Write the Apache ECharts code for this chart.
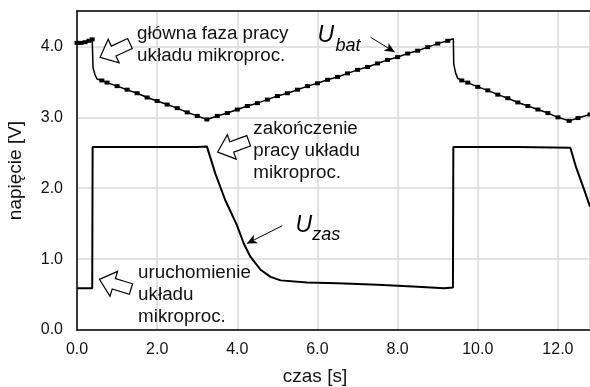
<!DOCTYPE html>
<html><head><meta charset="utf-8">
<script src="https://cdn.jsdelivr.net/npm/echarts@6/dist/echarts.min.js"></script>
<style>html,body{margin:0;padding:0;background:#fff}#c{width:590px;height:387px}</style>
</head><body><div id="c"></div>
<script>
// ---- data ----
const xMin = 0, xMax = 12.8, xStep = 2;
const yMin = 0, yMax = 4.5, yStep = 1;
const xName = 'czas [s]';
const yName = 'napięcie [V]';

const ubatT = [0, 0.1, 0.2, 0.3, 0.38, 0.4, 0.45, 0.5, 0.62, 0.75, 1.0, 1.25, 1.5, 1.75, 2.0, 2.25, 2.5, 2.75, 3.0, 3.24,
  3.5, 3.75, 4.0, 4.25, 4.5, 4.75, 5.0, 5.25, 5.5, 5.75, 6.0, 6.25, 6.5, 6.75, 7.0, 7.25, 7.5, 7.75, 8.0, 8.25, 8.5, 8.75, 9.0, 9.25, 9.39,
  9.4, 9.45, 9.5, 9.6, 9.75, 10.0, 10.25, 10.5, 10.75, 11.0, 11.25, 11.5, 11.75, 12.0, 12.28, 12.5, 12.8];
const ubatV = [4.05, 4.05, 4.06, 4.08, 4.10, 3.70, 3.60, 3.54, 3.52, 3.49, 3.44, 3.39, 3.34, 3.28, 3.23, 3.18, 3.13, 3.07, 3.02, 2.97,
  3.02, 3.06, 3.11, 3.16, 3.20, 3.25, 3.30, 3.34, 3.39, 3.44, 3.48, 3.53, 3.57, 3.62, 3.67, 3.71, 3.76, 3.81, 3.85, 3.90, 3.94, 3.99, 4.04, 4.08, 4.11,
  3.75, 3.62, 3.55, 3.52, 3.49, 3.43, 3.38, 3.32, 3.27, 3.21, 3.16, 3.11, 3.06, 3.00, 2.95, 2.99, 3.04];
// samples on the fast drops (drawn without a bead)
const ubatDropT = [0.4, 0.45, 0.5, 9.39, 9.4, 9.45, 9.5];

const uzasT = [0, 0.38, 0.39, 1.0, 2.0, 3.0, 3.24, 3.45, 3.7, 3.99, 4.16, 4.33, 4.58, 4.83, 5.08, 5.74, 6.5, 7.5, 8.5, 9.16, 9.38,
  9.39, 10.0, 11.0, 12.31, 12.45, 12.66, 12.8];
const uzasV = [0.59, 0.59, 2.58, 2.58, 2.58, 2.58, 2.59, 2.21, 1.83, 1.48, 1.22, 1.03, 0.85, 0.75, 0.70, 0.67, 0.66, 0.64, 0.61, 0.59, 0.60,
  2.58, 2.58, 2.58, 2.57, 2.30, 1.97, 1.74];

// annotation texts and their anchors (data units)
const noteTexts = ['główna faza pracy\nukładu mikroproc.', 'zakończenie\npracy układu\nmikroproc.', 'uruchomienie\nukładu\nmikroproc.'];
const noteAnchors = [[1.5, 4.34], [4.4, 3.0], [1.525, 0.958]];
const blockArrowTips = [[0.575, 3.845], [3.51, 2.51], [0.56, 0.714]];
const blockArrowAngles = [25, 20, -17]; // degrees
const seriesNames = ['U', 'U'];
const seriesSubs = ['bat', 'zas'];
const mainLetterAnchors = [[6.0, 4.155], [5.45, 1.475]];
const subAnchors = [[6.45, 4.0], [5.87, 1.334]];
const pointerFrom = [[7.325, 4.13], [5.12, 1.47]];
const pointerTo = [[7.925, 3.92], [4.24, 1.22]];

// ---- chart ----
const FONT = '"Liberation Sans", Arial, sans-serif';
const chart = echarts.init(document.getElementById('c'), null, {renderer: 'canvas'});
const ubatData = ubatT.map((t, i) => ubatDropT.includes(t)
  ? {value: [t, ubatV[i]], symbol: 'none'}
  : {value: [t, ubatV[i]]});
const uzasData = uzasT.map((t, i) => [t, uzasV[i]]);

const option = {
  animation: false,
  backgroundColor: '#fff',
  grid: {left: 77, right: 0, top: 11, bottom: 57, containLabel: false, outerBoundsMode: 'none'},
  xAxis: [{
    type: 'value', min: xMin, max: xMax, interval: xStep,
    axisLine: {show: true, onZero: false, lineStyle: {color: '#000', width: 1.5}},
    axisTick: {show: false},
    axisLabel: {formatter: v => v.toFixed(1), fontSize: 16, color: '#111', fontFamily: FONT, margin: 12, showMaxLabel: false},
    splitLine: {show: true, lineStyle: {color: '#d9d9d9', width: 1.5}},
    name: xName, nameLocation: 'middle', nameGap: 37,
    nameTextStyle: {fontSize: 19, color: '#111', fontFamily: FONT, padding: [0, 37, 0, 0]}
  }, {
    type: 'value', position: 'top', min: xMin, max: xMax,
    axisLine: {show: true, onZero: false, lineStyle: {color: '#000', width: 1.5}},
    axisTick: {show: false}, axisLabel: {show: false}, splitLine: {show: false}
  }],
  yAxis: {
    type: 'value', min: yMin, max: yMax, interval: yStep,
    axisLine: {show: true, onZero: false, lineStyle: {color: '#000', width: 1.5}},
    axisTick: {show: false},
    axisLabel: {formatter: v => v.toFixed(1), fontSize: 16, color: '#111', fontFamily: FONT, margin: 14, showMaxLabel: false},
    splitLine: {show: true, lineStyle: {color: '#d9d9d9', width: 1.5}},
    name: yName, nameLocation: 'middle', nameGap: 52,
    nameTextStyle: {fontSize: 19, color: '#111', fontFamily: FONT}
  },
  series: [{
    name: 'Ubat', type: 'line', data: ubatData,
    showSymbol: true, showAllSymbol: true, symbol: 'rect', symbolSize: [5, 4],
    itemStyle: {color: '#000'}, lineStyle: {color: '#000', width: 1.5},
    markLine: {
      silent: true, symbol: ['none', 'arrow'], symbolSize: [7, 10],
      label: {show: false}, lineStyle: {color: '#000', width: 1, type: 'solid'},
      data: pointerFrom.map((p, i) => [{coord: p}, {coord: pointerTo[i]}])
    }
  }, {
    name: 'Uzas', type: 'line', data: uzasData, showSymbol: false,
    lineStyle: {color: '#000', width: 2}
  }]
};
chart.setOption(option);

function px(p) { return chart.convertToPixel({gridIndex: 0}, p); }
const graphics = [];
noteTexts.forEach((t, i) => {
  const p = px(noteAnchors[i]);
  graphics.push({type: 'text', x: p[0], y: p[1], silent: true,
    style: {text: t, fontSize: 18.8, fontFamily: FONT, fill: '#111', lineHeight: 22, textAlign: 'left', textVerticalAlign: 'top'}});
});
const arrowShape = [[0, 0], [15, -13], [15, -5.5], [33, -5.5], [33, 5.5], [15, 5.5], [15, 13]];
blockArrowTips.forEach((tip, i) => {
  const p = px(tip);
  graphics.push({type: 'polygon', x: p[0], y: p[1], rotation: blockArrowAngles[i] * Math.PI / 180, silent: true,
    shape: {points: arrowShape}, style: {fill: '#fff', stroke: '#000', lineWidth: 1.2}});
});
seriesNames.forEach((n, i) => {
  const a = px(mainLetterAnchors[i]);
  const b = px(subAnchors[i]);
  graphics.push({type: 'text', x: a[0], y: a[1], silent: true,
    style: {text: n, fontSize: 23, fontStyle: 'italic', fontFamily: FONT, fill: '#000', textAlign: 'left', textVerticalAlign: 'middle'}});
  graphics.push({type: 'text', x: b[0], y: b[1], silent: true,
    style: {text: seriesSubs[i], fontSize: 18, fontStyle: 'italic', fontFamily: FONT, fill: '#000', textAlign: 'left', textVerticalAlign: 'middle'}});
});
chart.setOption({graphic: graphics});
</script></body></html>
